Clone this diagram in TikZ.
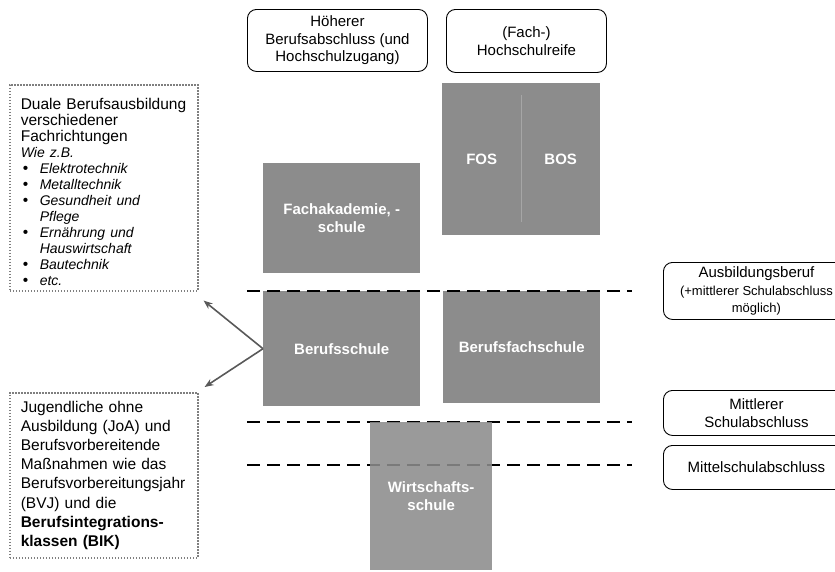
\documentclass[tikz,border=0pt]{standalone}
\usepackage{fontspec}
\setmainfont{Liberation Sans}
\usetikzlibrary{arrows.meta}
\definecolor{boxgray}{HTML}{8C8C8C}
\definecolor{notegray}{HTML}{7F7F7F}
\definecolor{arrowgray}{HTML}{595959}
\definecolor{sepgray}{HTML}{A6A6A6}
\newcommand{\fitem}[1]{\hspace*{2pt}\makebox[17pt][l]{\textbullet}{\itshape\fontsize{14}{16}\selectfont #1}}
\newcommand{\fmore}[1]{\hspace*{19pt}{\itshape\fontsize{14}{16}\selectfont #1}}
\tikzset{
	school/.style={fill=boxgray,text=white,font=\fontsize{15}{17.5}\selectfont\bfseries,align=center,inner sep=0pt,anchor=north west},
	goal/.style={draw,rounded corners=9pt,line width=0.9pt,align=center,inner sep=0pt,anchor=north west},
	note/.style={draw=notegray,line width=1.6pt,dash pattern=on 1.6pt off 1.4pt,anchor=north west,align=left,text width=166pt,inner xsep=11pt,inner ysep=0pt},
	level/.style={line width=2.8pt,dash pattern=on 13pt off 7pt},
	sepline/.style={draw=sepgray,line width=0.8pt},
	hint/.style={draw=arrowgray,line width=1.6pt,-{Stealth[length=9pt,width=7pt]}}
}
\begin{document}
\begin{tikzpicture}[x=1pt,y=-1pt,font=\fontsize{15}{17.5}\selectfont]
	\useasboundingbox (0,0) rectangle (835,571);

	% Abschluesse
	\node [goal,minimum width=180pt,minimum height=62pt] (hoeher) at (247,9) {Höherer\\Berufsabschluss (und\\Hochschulzugang)};
	\node [goal,minimum width=160pt,minimum height=63pt] (reife) at (446,9) {(Fach-)\\Hochschulreife};
	\node [goal,minimum width=186pt,minimum height=57pt] (beruf) at (663,262) {Ausbildungsberuf\\{\fontsize{13}{15}\selectfont (+mittlerer Schulabschluss}\\{\fontsize{13}{15}\selectfont möglich)}};
	\node [goal,minimum width=186pt,minimum height=45pt] (mittlerer) at (663,390) {Mittlerer\\Schulabschluss};
	\node [goal,minimum width=186pt,minimum height=44pt] (mittelschule) at (663,445) {Mittelschulabschluss};

	% Schulen
	\node [school,minimum width=157pt,minimum height=110pt] (fak) at (263,163) {Fachakademie, -\\schule};
	\node [school,minimum width=79pt,minimum height=152pt] (fos) at (442,83) {FOS};
	\node [school,minimum width=79pt,minimum height=152pt] (bos) at (521,83) {BOS};
	\draw [sepline] ([yshift=-12pt]fos.north east) -- ([yshift=13pt]fos.south east);
	\node [school,minimum width=157pt,minimum height=115pt] (bs) at (263,291) {Berufsschule};
	\node [school,minimum width=157pt,minimum height=112pt] (bfs) at (443,291) {Berufsfachschule};

	\foreach \y in {291,422,465}
		\draw [level] (247,\y) -- (632,\y);

	\node [school,fill opacity=0.88,text opacity=1,minimum width=122pt,minimum height=148pt] (ws) at (370,422) {Wirtschafts-\\schule};

	% Hinweise links
	\node [note,minimum width=188pt,minimum height=206pt,font=\fontsize{15.5}{16}\selectfont] (dual) at (9,84) {\rule{0pt}{19pt}Duale Berufsausbildung\\verschiedener\\Fachrichtungen\\{\itshape\fontsize{14}{16}\selectfont Wie z.B.}\\
		\fitem{Elektrotechnik}\\\fitem{Metalltechnik}\\\fitem{Gesundheit und}\\\fmore{Pflege}\\
		\fitem{Ernährung und}\\\fmore{Hauswirtschaft}\\\fitem{Bautechnik}\\\fitem{etc.}};
	\node [note,minimum width=188pt,minimum height=165pt,font=\fontsize{15.5}{19.2}\selectfont] (joa) at (9,392) {Jugendliche ohne\\Ausbildung (JoA) und\\Berufsvorbereitende\\Maßnahmen wie das\\Berufsvorbereitungsjahr\\(BVJ) und die\\\textbf{Berufsintegrations-}\\\textbf{klassen (BIK)}};

	\draw [hint] (bs.west) -- ([xshift=5pt,yshift=-9pt]dual.south east);
	\draw [hint] (bs.west) -- ([xshift=6pt,yshift=5pt]joa.north east);
\end{tikzpicture}
\end{document}
